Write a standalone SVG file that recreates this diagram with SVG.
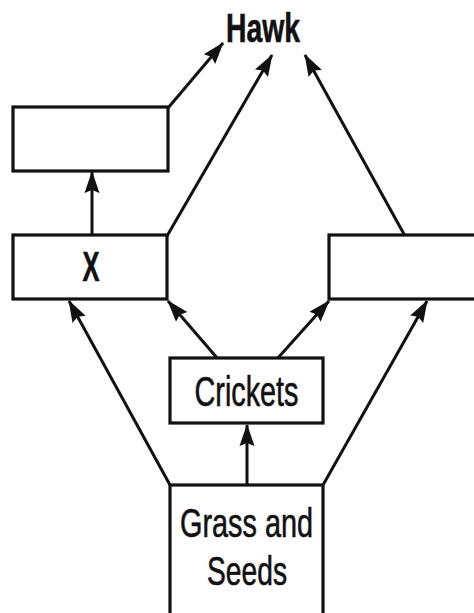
<svg xmlns="http://www.w3.org/2000/svg" width="474" height="613" viewBox="0 0 474 613">
<style>
.box{fill:#fff;stroke:#111;stroke-width:3.2}
.ln{fill:none;stroke:#111;stroke-width:3;marker-end:url(#ah)}
.t{font-family:"Liberation Sans",Arial,sans-serif;fill:#111;stroke:#111;stroke-width:0.6;text-anchor:middle}
</style>
<defs>
<marker id="ah" markerUnits="userSpaceOnUse" markerWidth="22" markerHeight="18" viewBox="0 0 22 18" refX="21" refY="9" orient="auto">
<path d="M0,1.5 L22,9 L0,16.5 L3,9 Z" fill="#111"/>
</marker>
</defs>
<rect width="474" height="613" fill="#fff"/>
<g id="connectors">
<path class="ln" d="M168,108 L223,43"/>
<path class="ln" d="M167,236 L272,55"/>
<path class="ln" d="M405,236 L305,55"/>
<path class="ln" d="M92,236 L92,172"/>
<path class="ln" d="M170,485 L69,301"/>
<path class="ln" d="M218,359 L168,301"/>
<path class="ln" d="M277,359 L329,301"/>
<path class="ln" d="M323,485 L427,301"/>
<path class="ln" d="M247,485 L247,425"/>
</g>
<g id="hawk"><text class="t" x="263" y="42" font-size="40" font-weight="bold" textLength="74" lengthAdjust="spacingAndGlyphs">Hawk</text></g>
<g id="top-box"><rect class="box" x="13" y="107" width="155" height="64"/></g>
<g id="x-box"><rect class="box" x="13" y="235" width="154" height="64"/>
<text class="t" x="91" y="281" font-size="42" font-weight="bold" textLength="17" lengthAdjust="spacingAndGlyphs">X</text></g>
<g id="right-box"><rect class="box" x="329" y="235" width="150" height="64"/></g>
<g id="crickets"><rect class="box" x="170" y="358" width="153" height="65"/>
<text class="t" x="246.5" y="406" font-size="42" textLength="104" lengthAdjust="spacingAndGlyphs">Crickets</text></g>
<g id="grass"><rect class="box" x="170" y="485" width="153" height="130"/>
<text class="t" x="246.5" y="537" font-size="40" textLength="133" lengthAdjust="spacingAndGlyphs">Grass and</text>
<text class="t" x="247" y="585" font-size="40" textLength="80" lengthAdjust="spacingAndGlyphs">Seeds</text></g>
</svg>
